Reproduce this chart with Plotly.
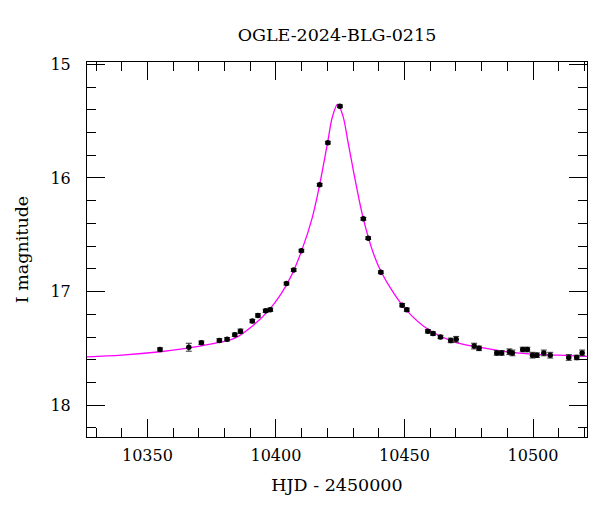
import plotly.graph_objects as go

# Observed data (HJD - 2450000, I mag, error)
hjd = [10354.9, 10366.1, 10371.0, 10378.0, 10381.0, 10384.0, 10386.2, 10390.8, 10393.0,
       10396.0, 10397.8, 10404.1, 10406.9, 10409.9, 10417.0, 10420.2, 10424.9, 10434.0,
       10435.9, 10440.8, 10449.1, 10450.9, 10459.1, 10461.1, 10464.0, 10468.0, 10470.1,
       10477.1, 10479.0, 10485.9, 10487.8, 10490.8, 10492.0, 10496.0, 10497.8, 10499.8,
       10501.5, 10504.2, 10506.7, 10513.9, 10517.0, 10519.1]
mag = [17.51, 17.49, 17.45, 17.43, 17.42, 17.38, 17.35, 17.26, 17.21,
       17.17, 17.16, 16.93, 16.81, 16.64, 16.06, 15.69, 15.37, 16.36,
       16.53, 16.83, 17.12, 17.16, 17.35, 17.37, 17.40, 17.43, 17.42,
       17.48, 17.50, 17.54, 17.54, 17.53, 17.54, 17.51, 17.51, 17.56,
       17.56, 17.54, 17.56, 17.58, 17.58, 17.54]
err = [0.015, 0.035, 0.015, 0.015, 0.015, 0.015, 0.02, 0.015, 0.015,
       0.015, 0.015, 0.012, 0.012, 0.012, 0.012, 0.012, 0.012, 0.012,
       0.012, 0.012, 0.015, 0.015, 0.015, 0.015, 0.015, 0.02, 0.025,
       0.025, 0.02, 0.02, 0.02, 0.025, 0.025, 0.02, 0.02, 0.025,
       0.02, 0.025, 0.025, 0.025, 0.02, 0.025]

# Model curve
model_t = [10326.5, 10340, 10355, 10365, 10375, 10384, 10391, 10397, 10402, 10406,
           10410, 10414, 10417, 10420, 10422, 10424, 10426, 10428, 10431, 10434,
           10438, 10441, 10446, 10451, 10459, 10469, 10479, 10490, 10500, 10510, 10521]
model_m = [17.575, 17.56, 17.53, 17.50, 17.46, 17.41, 17.30, 17.17, 17.02, 16.86,
           16.64, 16.36, 16.06, 15.70, 15.46, 15.35, 15.45, 15.68, 16.04, 16.36,
           16.67, 16.83, 17.02, 17.17, 17.33, 17.44, 17.49, 17.53, 17.55, 17.56, 17.57]

FONT = "DejaVu Serif"

fig = go.Figure()
fig.add_trace(go.Scatter(x=model_t, y=model_m, mode="lines", line_shape="spline",
                         line=dict(color="#ff00ff", width=1.3), showlegend=False,
                         hoverinfo="skip"))
fig.add_trace(go.Scatter(x=hjd, y=mag, mode="markers",
                         marker=dict(color="black", size=5.5, symbol="circle"),
                         error_y=dict(type="data", array=err, color="#333333",
                                      thickness=1, width=3),
                         showlegend=False))

axis_common = dict(showgrid=False, zeroline=False, showline=True, linecolor="black",
                   linewidth=1, mirror="allticks", ticks="inside", tickcolor="black",
                   tickwidth=1, ticklen=18, tickfont=dict(family=FONT, size=16, color="black"))

fig.update_layout(
    width=600, height=512,
    margin=dict(l=87, r=13, t=62, b=75),
    paper_bgcolor="white", plot_bgcolor="white",
    title=dict(text="OGLE-2024-BLG-0215", x=0.5616, xanchor="center", y=1 - 35/512,
               yanchor="middle", font=dict(family=FONT, size=17.5, color="black")),
    xaxis=dict(range=[10326.5, 10521], tickmode="linear", tick0=10350, dtick=50,
               tickformat="d",
               minor=dict(dtick=10, tick0=10350, ticks="inside", ticklen=9,
                          tickcolor="black", tickwidth=1),
               ticklabelstandoff=4,
               title=dict(text="HJD - 2450000", font=dict(family=FONT, size=17.5, color="black"),
                          standoff=14),
               **axis_common),
    yaxis=dict(range=[18.28, 14.98], tickmode="linear", tick0=15, dtick=1,
               minor=dict(dtick=0.2, tick0=15, ticks="inside", ticklen=9,
                          tickcolor="black", tickwidth=1),
               ticklabelstandoff=12,
               title=dict(text="I magnitude", font=dict(family=FONT, size=17.5, color="black"),
                          standoff=17),
               **axis_common),
)

fig.write_html("out.html")
